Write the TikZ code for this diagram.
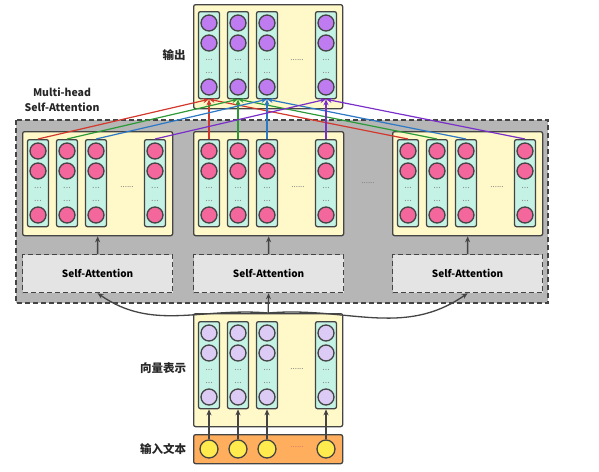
\documentclass[tikz,border=0pt]{standalone}
\usepackage{fontspec}
\setmainfont{Noto Sans CJK SC}
\usetikzlibrary{arrows.meta}

\definecolor{linec}{HTML}{444444}
\definecolor{paneyellow}{HTML}{FFF8C8}
\definecolor{mint}{HTML}{C4F2E4}
\definecolor{pinkc}{HTML}{F4679C}
\definecolor{violetc}{HTML}{BF7CF0}
\definecolor{lilac}{HTML}{DCCBF4}
\definecolor{sunc}{HTML}{FFEB4D}
\definecolor{orangec}{HTML}{FFAE5E}
\definecolor{mhgray}{HTML}{B6B6B6}
\definecolor{sagray}{HTML}{E4E4E4}
\definecolor{redl}{HTML}{D2382C}
\definecolor{greenl}{HTML}{2C9A37}
\definecolor{bluel}{HTML}{2B78C6}
\definecolor{purplel}{HTML}{7B2FC9}

\tikzset{
  panel/.style={draw=linec, fill=paneyellow, rounded corners=2pt, line width=1.3pt, inner sep=0pt, anchor=north west},
  vec/.style={draw=linec, fill=mint, rounded corners=2pt, line width=1.3pt, minimum width=21pt, minimum height=87pt, inner sep=0pt, anchor=north},
  cell/.style={circle, draw=linec, line width=1.3pt, minimum size=16pt, inner sep=0pt},
  smalldots/.style={text=gray!90, font=\fontsize{9}{9}\selectfont, inner sep=0pt},
  gap/.style={text=gray, font=\footnotesize, inner sep=0pt},
  sabox/.style={draw=linec, dash pattern=on 5pt off 3pt, fill=sagray, line width=1.2pt, minimum width=150pt, minimum height=38pt, inner sep=0pt, anchor=north west, font=\bfseries\fontsize{10}{12}\selectfont},
  lab/.style={font=\bfseries\fontsize{11.5}{15}\selectfont, text=black!85},
  flow/.style={-{Stealth[length=6pt,width=5pt]}, draw=linec, line width=1.3pt},
  att/.style={-{Stealth[length=6pt,width=5pt]}, line width=1.2pt},
}

% one vector: column with three cells and dots
\newcommand{\vcol}[4]{%
  \node[vec] (#1) at ({#2},{#3}) {};
  \node[cell, fill=#4] (#1a) at ({#2},{#3+12}) {};
  \node[cell, fill=#4] (#1b) at ({#2},{#3+32}) {};
  \node[smalldots] (#1d) at ({#2},{#3+49}) {...};
  \node[smalldots] (#1e) at ({#2},{#3+62}) {...};
  \node[cell, fill=#4] (#1c) at ({#2},{#3+76}) {};
}

\begin{document}
\begin{tikzpicture}[x=1pt,y=-1pt]
  \useasboundingbox (0,0) rectangle (599,471);

  % multi-head block
  \draw[draw=linec, dash pattern=on 5pt off 3pt, fill=mhgray, line width=1.2pt] (16,120) rectangle (548,303);
  \node[lab, align=center] (mhlab) at (62,100) {\fontsize{10.5}{15}\selectfont Multi-head\\\fontsize{10.5}{15}\selectfont Self-Attention};

  \foreach \g/\L in {1/22,2/193,3/392}{
    \node[panel, minimum width=150pt, minimum height=104pt] (g\g) at (\L,131) {};
    \foreach \k/\dx in {1/16,2/45,3/74,4/133}
      \vcol{g\g c\k}{\L+\dx}{139}{pinkc};
    \node[gap] (g\g gap) at (\L+105,187) {......};
    \node[sabox] (sa\g) at (\L,254) {Self-Attention};
    \draw[flow] (sa\g.north) -- (g\g.south);
  }
  \node[gap] (midgap) at (368,183) {......};

  % output
  \node[panel, minimum width=149pt, minimum height=104pt] (outp) at (193,4) {};
  \foreach \k/\x in {1/209,2/238,3/267,4/326}
    \vcol{o\k}{\x}{11}{violetc};
  \node[gap] (ogap) at (297,60) {......};
  \node[lab] (outlab) at (174,55) {输出};

  % embeddings
  \node[panel, minimum width=149pt, minimum height=113pt] (emb) at (193,313) {};
  \foreach \k/\x in {1/209,2/238,3/267,4/326}
    \vcol{e\k}{\x}{321}{lilac};
  \node[gap] (egap) at (297,369) {......};
  \node[lab] (emblab) at (163,368) {向量表示};

  % input text
  \node[panel, fill=orangec, minimum width=149pt, minimum height=29pt] (inp) at (193,434) {};
  \foreach \k/\x in {1/209,2/238,3/267,4/326}{
    \node[cell, fill=sunc, minimum size=18pt] (t\k) at (\x,449) {};
    \draw[flow] (t\k.north) -- (e\k.south);
  }
  \node[gap, text=redl!70] (tgap) at (297,447) {......};
  \node[lab] (inlab) at (163,449) {输入文本};

  % embeddings to the heads
  \draw[flow] (emb.north) -- (sa2.south);
  \draw[flow] (emb.north) to[out=175,in=-35] (sa1.south);
  \draw[flow] (emb.north) to[out=5,in=215] (sa3.south);

  % heads to the output
  \foreach \k/\c in {1/redl,2/greenl,3/bluel,4/purplel}
    \foreach \g in {1,2,3}
      \draw[att, color=\c] (g\g c\k.north) -- (o\k.south);
\end{tikzpicture}
\end{document}
